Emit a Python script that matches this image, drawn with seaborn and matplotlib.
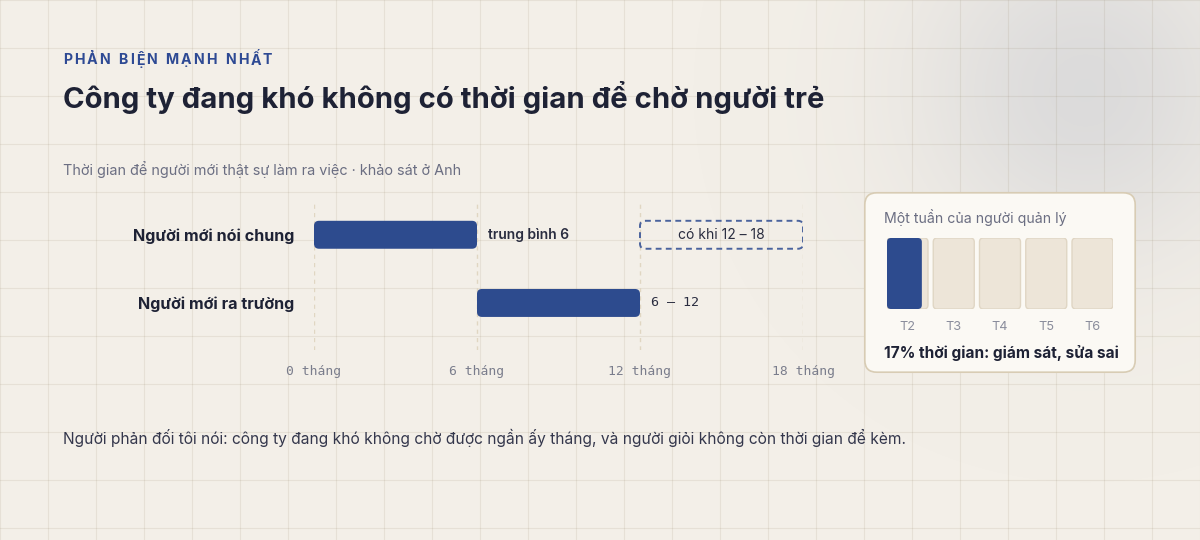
import numpy as np
import pandas as pd
import matplotlib
matplotlib.use("Agg")
import matplotlib.pyplot as plt
import seaborn as sns
from matplotlib.patches import FancyBboxPatch

# ---- data ----
groups = ["Người mới nói chung", "Người mới ra trường"]
start_months = [0, 6]
end_months = [6, 12]
value_labels = ["trung bình 6", "6 – 12"]
range_max = (12, 18)
range_label = "có khi 12 – 18"
tick_months = [0, 6, 12, 18]
tick_labels = ["0 tháng", "6 tháng", "12 tháng", "18 tháng"]

week_days = ["T2", "T3", "T4", "T5", "T6"]
supervise_share = 0.17

kicker = "PHẢN BIỆN MẠNH NHẤT"
title = "Công ty đang khó không có thời gian để chờ người trẻ"
subtitle = "Thời gian để người mới thật sự làm ra việc · khảo sát ở Anh"
card_title = "Một tuần của người quản lý"
card_note = "17% thời gian: giám sát, sửa sai"
footer = "Người phản đối tôi nói: công ty đang khó không chờ được ngần ấy tháng, và người giỏi không còn thời gian để kèm."

BG = "#f3efe8"
BLUE = "#2d4b8e"
INK = "#1e2235"
MUTED = "#6b6e82"
SANS = ["Inter", "DejaVu Sans"]
MONO = ["DejaVu Sans Mono"]

sns.set_theme(style="white")
plt.rcParams["font.family"] = SANS

fig = plt.figure(figsize=(12, 5.4), dpi=100)
fig.patch.set_facecolor(BG)

# background layer in pixel coords
bg = fig.add_axes([0, 0, 1, 1])
bg.set_xlim(0, 1200)
bg.set_ylim(540, 0)
bg.axis("off")
bg.set_facecolor(BG)
yy, xx = np.mgrid[0:540, 0:1200]
d = np.sqrt((xx - 1085) ** 2 + (yy - 90) ** 2)
glow = np.zeros((540, 1200, 4))
glow[..., :3] = np.array([214, 214, 216]) / 255
glow[..., 3] = 0.8 * np.exp(-(d / 170) ** 2)
bg.imshow(glow, extent=(0, 1200, 540, 0), zorder=0, aspect="auto")
for gx in range(0, 1201, 48):
    bg.plot([gx, gx], [0, 540], color="#8a7a5a", alpha=0.12, lw=0.8, zorder=1)
for gy in range(0, 541, 48):
    bg.plot([0, 1200], [gy, gy], color="#8a7a5a", alpha=0.12, lw=0.8, zorder=1)

# kicker with letter spacing
renderer = fig.canvas.get_renderer()
cx = 63
for ch in kicker:
    t = bg.text(cx, 60, ch, fontsize=10.2, fontweight="bold", color="#2e4a94",
                va="center", ha="left", zorder=3)
    w = t.get_window_extent(renderer).width if ch != " " else 4.5
    cx += w + 2.05

bg.text(63, 98, title, fontsize=21.1, fontweight="bold", color=INK, va="center", zorder=3)
bg.text(63, 170, subtitle, fontsize=10.4, color=MUTED, va="center", zorder=3)
bg.text(63, 438, footer, fontsize=11.15, color="#34374c", va="center", zorder=3)

# ---- main range chart ----
ax = fig.add_axes([314 / 1200, 1 - 350 / 540, 489 / 1200, 150 / 540])
ax.set_facecolor("none")
df = pd.DataFrame({"group": groups, "start": start_months,
                   "dur": np.array(end_months) - np.array(start_months)})
sns.barplot(data=df, x="dur", y="group", left=df["start"], color=BLUE,
            width=0.41, ax=ax, zorder=3)
ax.set_xlim(0, 18)
ax.set_ylim(1.69, -0.51)

# round the bar corners
px_x = 489 / 18
px_y = 150 / 2.2
r = 5 / px_x
aspect = px_x / px_y
for p in list(ax.patches):
    x0, y0, w, h = p.get_x(), p.get_y(), p.get_width(), p.get_height()
    p.remove()
    ax.add_patch(FancyBboxPatch((x0, y0), w, h, boxstyle=f"round,pad=0,rounding_size={r}",
                                mutation_aspect=aspect, fc=BLUE, ec="none", zorder=3))

# dashed "sometimes" range
ax.add_patch(FancyBboxPatch((range_max[0], -0.205), range_max[1] - range_max[0], 0.41,
                            boxstyle=f"round,pad=0,rounding_size={r}", mutation_aspect=aspect,
                            fc="none", ec="#4a639d", lw=1.4, ls=(0, (3, 2.2)), zorder=3))
ax.text(np.mean(range_max), 0, range_label, ha="center", va="center",
        fontsize=10, color="#2a2d40", zorder=4)

for i, (e, lab) in enumerate(zip(end_months, value_labels)):
    if i == 0:
        ax.annotate(lab, (e, i), xytext=(8, 0), textcoords="offset points",
                    ha="left", va="center", fontsize=10, fontweight="semibold", color="#2a2d40")
    else:
        ax.annotate(lab, (e, i), xytext=(8, 0), textcoords="offset points",
                    ha="left", va="center", fontsize=9.6, family=MONO, color="#2a2d40")

ax.set_xticks(tick_months)
ax.set_xticklabels(tick_labels, family=MONO, fontsize=9.4, color="#7a7d8c")
ax.set_yticks([0, 1])
ax.set_yticklabels(groups, fontsize=11.6, fontweight="bold", color=INK)
ax.tick_params(axis="x", length=0, pad=11)
ax.tick_params(axis="y", length=0, pad=14)
ax.set_xlabel("")
ax.set_ylabel("")
for s in ax.spines.values():
    s.set_visible(False)
ax.grid(axis="x", color="#e0d6c2", ls=(0, (3, 3)), lw=1, zorder=1)
ax.grid(axis="y", visible=False)

# ---- inset card ----
card = fig.add_axes([864 / 1200, 1 - 373 / 540, 272 / 1200, 181 / 540])
card.set_xlim(0, 272)
card.set_ylim(181, 0)
card.axis("off")
card.add_patch(FancyBboxPatch((0.8, 0.8), 270.4, 179.4, boxstyle="round,pad=0,rounding_size=12",
                              fc="#fbf9f4", ec="#d8ccb4", lw=1.2, clip_on=False))
card.text(20, 26, card_title, fontsize=10.2, color=MUTED, va="center")
card.text(20, 161, card_note, fontsize=11.1, fontweight="bold", color=INK, va="center")

cells = fig.add_axes([887 / 1200, 1 - 309 / 540, 226 / 1200, 71 / 540])
cell_w = 41 / 46.25
cells.set_xlim(0, len(week_days) - 1 + cell_w)
cells.set_ylim(0, 1)
cells.set_facecolor("none")
cr = 4 / 46.25
ca = 46.25 / 71
filled = supervise_share * len(week_days)
for i, day in enumerate(week_days):
    cells.add_patch(FancyBboxPatch((i, 0), cell_w, 1, boxstyle=f"round,pad=0,rounding_size={cr}",
                                   mutation_aspect=ca, fc="#ede5d8", ec="#e0d6c4", lw=1))
    frac = min(max(filled - i, 0), 1)
    if frac > 0:
        cells.add_patch(FancyBboxPatch((i, 0), cell_w * frac, 1,
                                       boxstyle=f"round,pad=0,rounding_size={cr}",
                                       mutation_aspect=ca, fc=BLUE, ec="none"))
cells.set_xticks([i + cell_w / 2 for i in range(len(week_days))])
cells.set_xticklabels(week_days, fontsize=9.2, color="#8a8d9c")
cells.set_yticks([])
cells.tick_params(axis="x", length=0, pad=9)
for s in cells.spines.values():
    s.set_visible(False)

fig.savefig("out.png", dpi=100, facecolor=BG)
